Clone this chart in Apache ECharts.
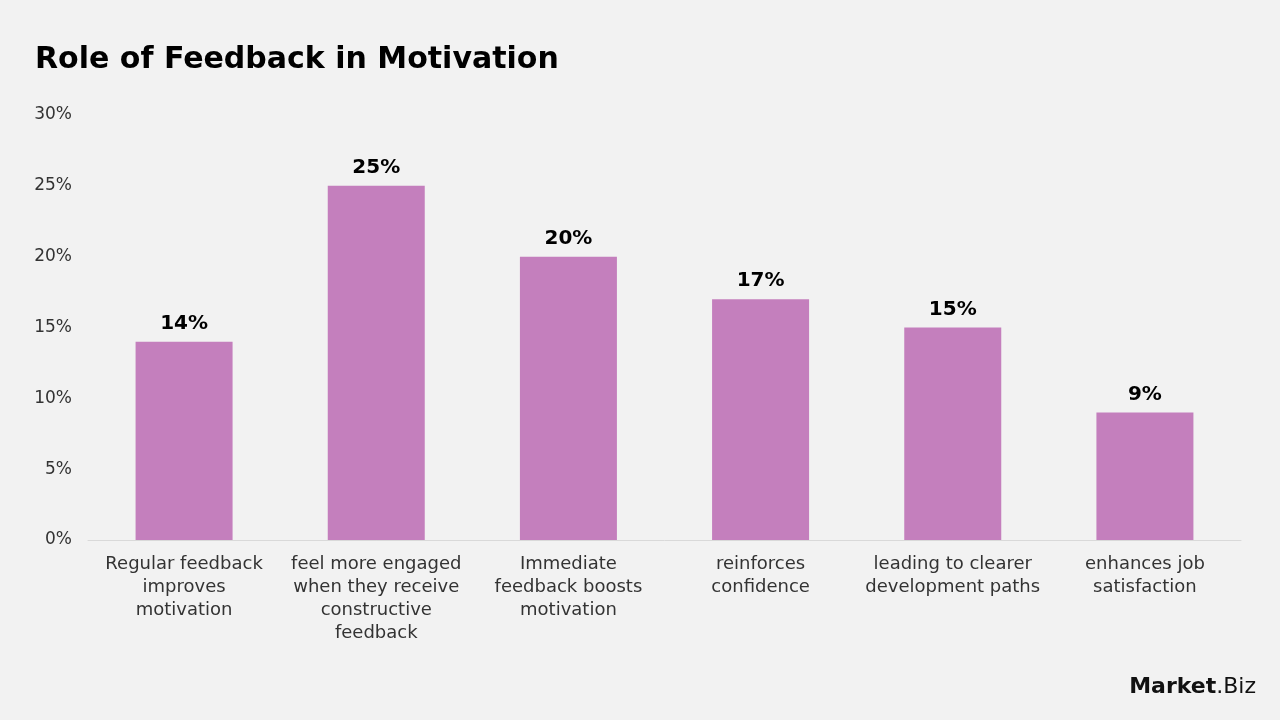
<!DOCTYPE html>
<html>
<head>
<meta charset="utf-8">
<script src="https://cdn.jsdelivr.net/npm/echarts@6/dist/echarts.min.js"></script>
<style>
  html, body { margin: 0; padding: 0; background: #f2f2f2; }
  #main { width: 1280px; height: 720px; }
</style>
</head>
<body>
<div id="main"></div>
<script>
var categories = [
    'Regular feedback\nimproves\nmotivation',
    'feel more engaged\nwhen they receive\nconstructive\nfeedback',
    'Immediate\nfeedback boosts\nmotivation',
    'reinforces\nconfidence',
    'leading to clearer\ndevelopment paths',
    'enhances job\nsatisfaction'
];
var values = [14, 25, 20, 17, 15, 9];
var yTicks = [0, 5, 10, 15, 20, 25, 30];

var fontName = '"DejaVu Sans", sans-serif';

// 基于准备好的dom，初始化echarts实例
var myChart = echarts.init(document.getElementById('main'));
myChart.setOption({
    backgroundColor: '#f2f2f2',
    animation: false,
    title: {
        text: 'Role of Feedback in Motivation',
        left: 30,
        top: 40,
        textStyle: {
            fontFamily: fontName,
            fontSize: 30,
            fontWeight: 'bold',
            color: '#000'
        }
    },
    grid: {
        left: 88,
        right: 39,
        top: 115,
        bottom: 180
    },
    xAxis: {
        type: 'category',
        data: categories,
        axisLine: { show: true, lineStyle: { color: '#d9d9d9', width: 1 } },
        axisTick: { show: false },
        axisLabel: {
            interval: 0,
            margin: 13,
            color: '#333',
            fontFamily: fontName,
            fontSize: 18,
            lineHeight: 23
        }
    },
    yAxis: {
        type: 'value',
        min: yTicks[0],
        max: yTicks[yTicks.length - 1],
        interval: 5,
        splitLine: { show: false },
        axisLine: { show: false },
        axisTick: { show: false },
        axisLabel: {
            margin: 16,
            color: '#333',
            fontFamily: fontName,
            fontSize: 17,
            formatter: '{value}%'
        }
    },
    series: [{
        type: 'bar',
        data: values,
        barWidth: 97,
        itemStyle: { color: '#c47fbd' },
        label: {
            show: true,
            position: 'top',
            distance: 8,
            formatter: '{c}%',
            color: '#000',
            fontFamily: fontName,
            fontSize: 20,
            fontWeight: 'bold'
        }
    }],
    graphic: [{
        type: 'text',
        right: 24,
        top: 676,
        style: {
            text: '{b|Market}{r|.Biz}',
            rich: {
                b: { fontFamily: fontName, fontSize: 22, fontWeight: 'bold', fill: '#111' },
                r: { fontFamily: fontName, fontSize: 22, fontWeight: 'normal', fill: '#111' }
            }
        }
    }]
});
</script>
</body>
</html>
